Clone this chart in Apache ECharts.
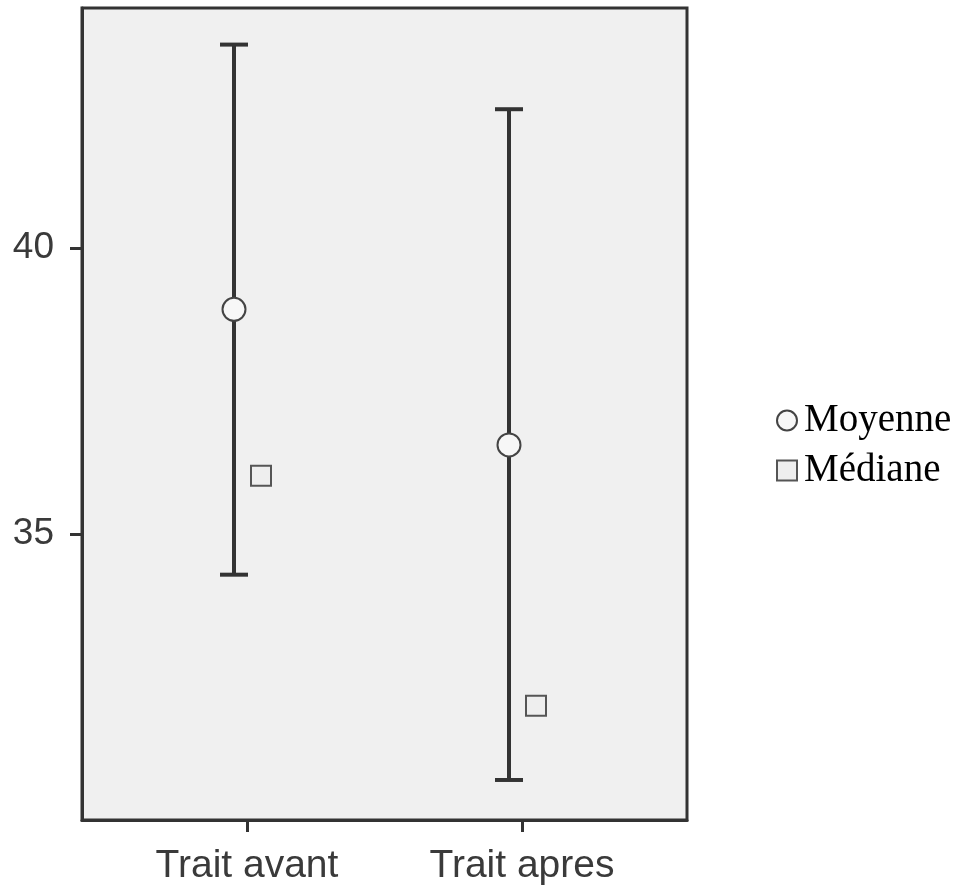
<!DOCTYPE html>
<html>
<head>
<meta charset="utf-8">
<script src="https://cdn.jsdelivr.net/npm/echarts@6/dist/echarts.min.js"></script>
<style>
  html, body { margin: 0; padding: 0; background: #fff; }
  #main { width: 971px; height: 887px; }
</style>
</head>
<body>
<div id="main"></div>
<script>
// groups and values
var groups = ['Trait avant', 'Trait apres'];
var groupPos = [1, 2];
var errLow = [34.29, 30.70];
var errHigh = [43.56, 42.43];
var moyenne = [38.93, 36.56];
var mediane = [36.02, 32.0];
var yTicks = [35, 40];

var myChart = echarts.init(document.getElementById('main'));

var errData = groupPos.map(function (x, i) { return [x, errLow[i], errHigh[i]]; });
var meanData = groupPos.map(function (x, i) { return [x, moyenne[i]]; });
var medData = groupPos.map(function (x, i) { return [x, mediane[i]]; });

var barShift = -13;   // error bars sit a bit left of the tick
var capHalf = 14;

var option = {
    animation: false,
    backgroundColor: '#fff',
    grid: {
        left: 82,
        top: 8,
        right: 284,
        bottom: 67,
        show: true,
        backgroundColor: '#f0f0f0',
        borderColor: '#333',
        borderWidth: 3
    },
    legend: {
        orient: 'vertical',
        left: 771,
        top: 396,
        itemWidth: 20,
        itemHeight: 20,
        itemGap: 11,
        textStyle: {
            fontFamily: 'Liberation Serif',
            fontSize: 39,
            color: '#000',
            padding: [0, 0, 0, 2]
        },
        data: ['Moyenne', 'Médiane']
    },
    xAxis: {
        type: 'value',
        min: 0.4,
        max: 2.6,
        splitLine: { show: false },
        axisLine: { show: true, lineStyle: { color: '#333', width: 3 } },
        axisTick: {
            show: true,
            length: 12,
            customValues: groupPos,
            lineStyle: { color: '#333', width: 3 }
        },
        axisLabel: {
            customValues: groupPos,
            margin: 27,
            fontFamily: 'Liberation Sans',
            fontSize: 39,
            color: '#3a3a3a',
            formatter: function (v) {
                var i = groupPos.indexOf(v);
                return i >= 0 ? groups[i] : '';
            }
        }
    },
    yAxis: {
        type: 'value',
        min: 30,
        max: 44.2,
        splitLine: { show: false },
        axisLine: { show: true, lineStyle: { color: '#333', width: 3 } },
        axisTick: {
            show: true,
            length: 12,
            customValues: yTicks,
            lineStyle: { color: '#333', width: 3 }
        },
        axisLabel: {
            customValues: yTicks,
            margin: 28,
            fontFamily: 'Liberation Sans',
            fontSize: 37,
            color: '#3a3a3a'
        }
    },
    series: [
        {
            type: 'custom',
            name: 'err',
            data: errData,
            z: 2,
            renderItem: function (params, api) {
                var lo = api.coord([api.value(0), api.value(1)]);
                var hi = api.coord([api.value(0), api.value(2)]);
                var x = lo[0] + barShift;
                var style = { stroke: '#333', lineWidth: 4 };
                return {
                    type: 'group',
                    children: [
                        { type: 'line', shape: { x1: x, y1: lo[1], x2: x, y2: hi[1] }, style: style },
                        { type: 'line', shape: { x1: x - capHalf, y1: lo[1], x2: x + capHalf, y2: lo[1] }, style: style },
                        { type: 'line', shape: { x1: x - capHalf, y1: hi[1], x2: x + capHalf, y2: hi[1] }, style: style }
                    ]
                };
            }
        },
        {
            type: 'scatter',
            name: 'Moyenne',
            data: meanData,
            symbol: 'circle',
            symbolSize: 23,
            symbolOffset: [barShift, 0],
            z: 5,
            itemStyle: { color: '#f7f7f7', borderColor: '#444', borderWidth: 2, opacity: 1 }
        },
        {
            type: 'scatter',
            name: 'Médiane',
            data: medData,
            symbol: 'rect',
            symbolSize: 20,
            symbolOffset: [14, 0],
            z: 5,
            itemStyle: { color: '#eeeeee', borderColor: '#555', borderWidth: 2, opacity: 1 }
        }
    ]
};

myChart.setOption(option);
</script>
</body>
</html>
